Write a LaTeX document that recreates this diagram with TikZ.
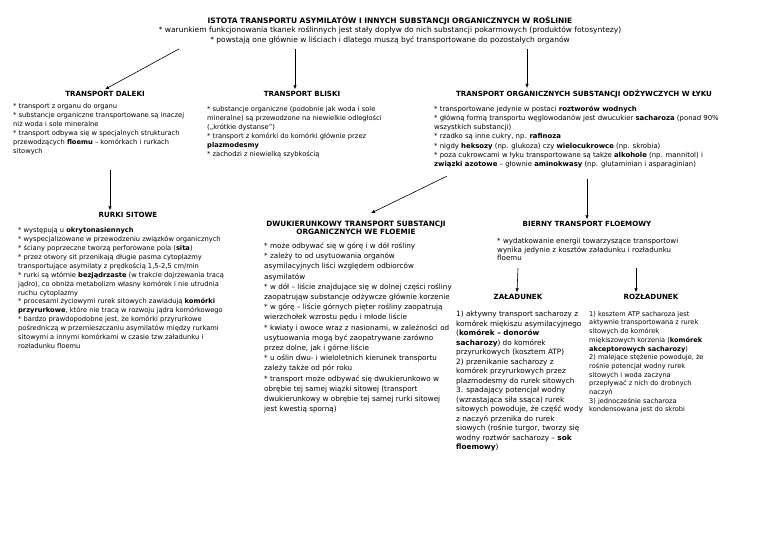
\documentclass[tikz,border=0pt]{standalone}
\usepackage{fontspec}
\setmainfont{DejaVu Sans}
\usetikzlibrary{arrows.meta, positioning}

\begin{document}
\begin{tikzpicture}[
    x=1pt, y=-1pt,
    head/.style={font=\fontsize{7.1}{8.2}\selectfont\bfseries, align=center, inner sep=0pt, outer sep=2pt},
    body/.style={font=\fontsize{6.7}{9}\selectfont, align=left, anchor=north west, inner sep=0pt},
    arrow/.style={-{Latex[length=4pt, width=3.4pt]}, line width=0.6pt}
]
\useasboundingbox (0,0) rectangle (760,537);

% Title
\node[body, anchor=north, align=center, font=\fontsize{7.5}{9.5}\selectfont] (Title) at (390,16) {\textbf{ISTOTA TRANSPORTU ASYMILATÓW I INNYCH SUBSTANCJI ORGANICZNYCH W ROŚLINIE}\\
* warunkiem funkcjonowania tkanek roślinnych jest stały dopływ do nich substancji pokarmowych (produktów fotosyntezy)\\
* powstają one głównie w liściach i dlatego muszą być transportowane do pozostałych organów};

% Top row
\node[head] (Daleki) at (105,94) {TRANSPORT DALEKI};
\node[head] (Bliski) at (302,94) {TRANSPORT BLISKI};
\node[head] (Lyk) at (584,94) {TRANSPORT ORGANICZNYCH SUBSTANCJI ODŻYWCZYCH W ŁYKU};

\node[body] (DalekiBody) at (13,103.5) {* transport z organu do organu\\
* substancje organiczne transportowane są inaczej\\
niż woda i sole mineralne\\
* transport odbywa się w specjalnych strukturach\\
przewodzących \textbf{floemu} – komórkach i rurkach\\
sitowych};

\node[body] (BliskiBody) at (207,106.5) {* substancje organiczne (podobnie jak woda i sole\\
mineralne) są przewodzone na niewielkie odległości\\
(„krótkie dystanse”)\\
* transport z komórki do komórki głównie przez\\
\textbf{plazmodesmy}\\
* zachodzi z niewielką szybkością};

\node[body, font=\fontsize{6.9}{9.2}\selectfont] (LykBody) at (434,105.5) {* transportowane jedynie w postaci \textbf{roztworów wodnych}\\
* główną formą transportu węglowodanów jest dwucukier \textbf{sacharoza} (ponad 90\%\\
wszystkich substancji)\\
* rzadko są inne cukry, np. \textbf{rafinoza}\\
* nigdy \textbf{heksozy} (np. glukoza) czy \textbf{wielocukrowce} (np. skrobia)\\
* poza cukrowcami w łyku transportowane są także \textbf{alkohole} (np. mannitol) i\\
\textbf{związki azotowe} – głownie \textbf{aminokwasy} (np. glutaminian i asparaginian)};

% Second row
\node[head] (Rurki) at (128,215) {RURKI SITOWE};
\node[body, font=\fontsize{6.7}{8.9}\selectfont] (RurkiBody) at (18,227.5) {* występują u \textbf{okrytonasiennych}\\
* wyspecjalizowane w przewodzeniu związków organicznych\\
* ściany poprzeczne tworzą perforowane pola (\textbf{sita})\\
* przez otwory sit przenikają długie pasma cytoplazmy\\
transportujące asymilaty z prędkością 1,5-2,5 cm/min\\
* rurki są wtórnie \textbf{bezjądrzaste} (w trakcie dojrzewania tracą\\
jądro), co obniża metabolizm własny komórek i nie utrudnia\\
ruchu cytoplazmy\\
* procesami życiowymi rurek sitowych zawiadują \textbf{komórki}\\
\textbf{przyrurkowe}, które nie tracą w rozwoju jądra komórkowego\\
* bardzo prawdopodobne jest, że komórki przyrurkowe\\
pośredniczą w przemieszczaniu asymilatów między rurkami\\
sitowymi a innymi komórkami w czasie tzw załadunku i\\
rozładunku floemu};

\node[head, font=\fontsize{7.3}{8.2}\selectfont\bfseries] (Dwukier) at (356,228) {DWUKIERUNKOWY TRANSPORT SUBSTANCJI\\ORGANICZNYCH WE FLOEMIE};
\node[body, font=\fontsize{7.2}{10.2}\selectfont] (DwukierBody) at (264,242.5) {* może odbywać się w górę i w dół rośliny\\
* zależy to od usytuowania organów\\
asymilacyjnych liści względem odbiorców\\
asymilatów\\
* w dół – liście znajdujące się w dolnej części rośliny\\
zaopatrująw substancje odżywcze głównie korzenie\\
* w górę – liście górnych pięter rośliny zaopatrują\\
wierzchołek wzrostu pędu i młode liście\\
* kwiaty i owoce wraz z nasionami, w zależności od\\
usytuowania mogą być zaopatrywane zarówno\\
przez dolne, jak i górne liście\\
* u oślin dwu- i wieloletnich kierunek transportu\\
zależy także od pór roku\\
* transport może odbywać się dwukierunkowo w\\
obrębie tej samej wiązki sitowej (transport\\
dwukierunkowy w obrębie tej samej rurki sitowej\\
jest kwestią sporną)};

\node[head] (Bierny) at (587,224) {BIERNY TRANSPORT FLOEMOWY};
\node[body, font=\fontsize{7.1}{8.6}\selectfont] (BiernyBody) at (497,238) {* wydatkowanie energii towarzyszące transportowi\\
wynika jedynie z kosztów załadunku i rozładunku\\
floemu};

% Third row
\node[head] (Zal) at (518,297) {ZAŁADUNEK};
\node[head] (Roz) at (651,297) {ROZŁADUNEK};

\node[body, font=\fontsize{7.3}{9.5}\selectfont] (ZalBody) at (456,311) {1) aktywny transport sacharozy z\\
komórek miękiszu asymilacyjnego\\
(\textbf{komórek – donorów}\\
\textbf{sacharozy}) do komórek\\
przyrurkowych (kosztem ATP)\\
2) przenikanie sacharozy z\\
komórek przyrurkowych przez\\
plazmodesmy do rurek sitowych\\
3. spadający potencjał wodny\\
(wzrastająca siła ssąca) rurek\\
sitowych powoduje, że część wody\\
z naczyń przenika do rurek\\
siowych (rośnie turgor, tworzy się\\
wodny roztwór sacharozy – \textbf{sok}\\
\textbf{floemowy})};

\node[body, font=\fontsize{6.6}{8.7}\selectfont] (RozBody) at (589,311) {1) kosztem ATP sacharoza jest\\
aktywnie transportowana z rurek\\
sitowych do komórek\\
miękiszowych korzenia (\textbf{komórek}\\
\textbf{akceptorowych sacharozy})\\
2) malejące stężenie powoduje, że\\
rośnie potencjał wodny rurek\\
sitowych i woda zaczyna\\
przepływać z nich do drobnych\\
naczyń\\
3) jednocześnie sacharoza\\
kondensowana jest do skrobi};

% Edges
\draw[arrow] ([xshift=-211pt, yshift=-5pt]Title.south) -- (Daleki.north);
\draw[arrow] ([xshift=-95pt, yshift=-5pt]Title.south) -- ([xshift=-7pt]Bliski.north);
\draw[arrow] ([xshift=137pt, yshift=-5pt]Title.south) -- ([xshift=-57pt]Lyk.north);
\draw[arrow] ([xshift=97pt, yshift=-15pt]DalekiBody.south west) -- ([xshift=-18pt]Rurki.north);
\draw[arrow] ([xshift=13pt, yshift=-8pt]LykBody.south west) -- ([xshift=15pt, yshift=6pt]Dwukier.north);
\draw[arrow] ([xshift=153pt, yshift=-11pt]LykBody.south west) -- (Bierny.north);
\draw[arrow] ([xshift=21pt, yshift=-7pt]BiernyBody.south west) -- ([xshift=-1pt]Zal.north);
\draw[arrow] ([xshift=139pt, yshift=-7pt]BiernyBody.south west) -- ([xshift=-15pt]Roz.north);

\end{tikzpicture}
\end{document}
